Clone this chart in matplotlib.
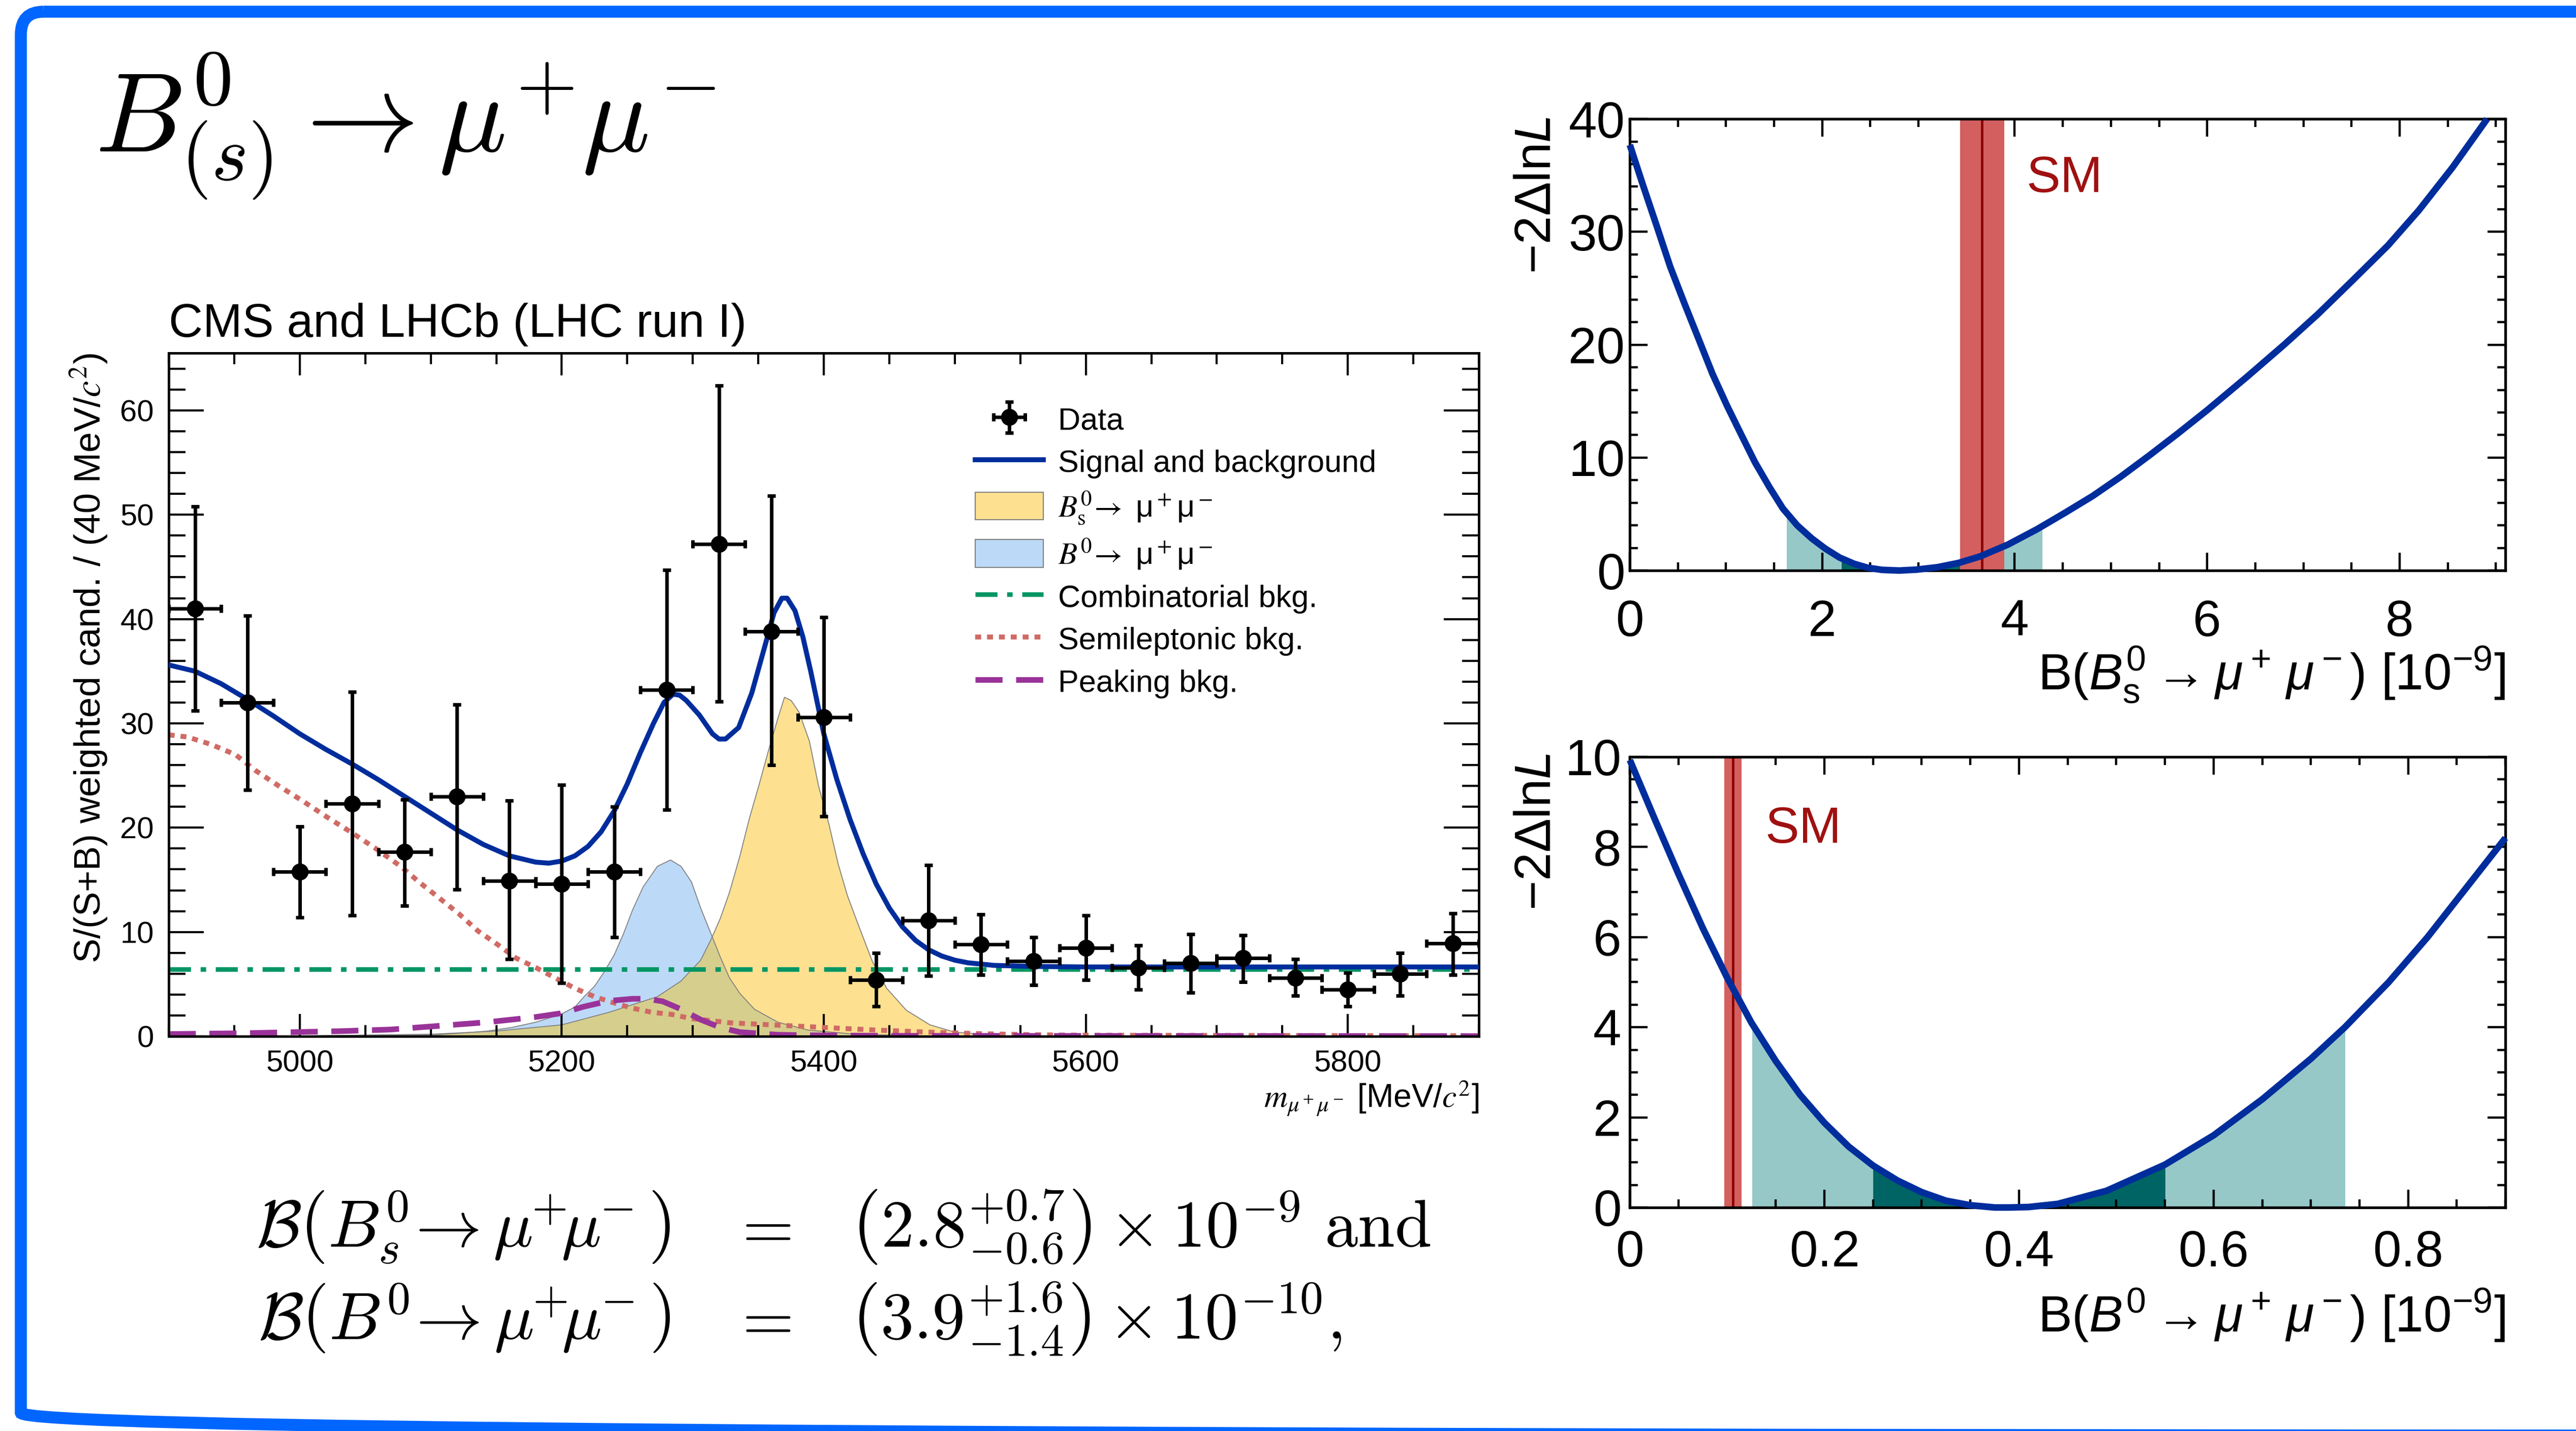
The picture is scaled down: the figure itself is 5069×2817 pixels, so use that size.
import numpy as np
import matplotlib
matplotlib.use("Agg")
import matplotlib.pyplot as plt
from matplotlib.patches import Patch, FancyBboxPatch, Rectangle, Polygon
from matplotlib.lines import Line2D
from matplotlib.ticker import MultipleLocator, FuncFormatter

plt.rcParams['font.family'] = ['Liberation Sans', 'DejaVu Sans']
plt.rcParams['mathtext.fontset'] = 'custom'
plt.rcParams['mathtext.rm'] = 'Liberation Sans'
plt.rcParams['mathtext.it'] = 'Liberation Sans:italic'
plt.rcParams['mathtext.bf'] = 'Liberation Sans:bold'
plt.rcParams['mathtext.sf'] = 'Liberation Sans'

# ---- mass spectrum: weighted candidates per 40 MeV bin ----
bin_width = 40
data_mass = [4920, 4960, 5000, 5040, 5080, 5120, 5160, 5200, 5240, 5280, 5320, 5360, 5400,
             5440, 5480, 5520, 5560, 5600, 5640, 5680, 5720, 5760, 5800, 5840, 5880]
data_yield = [41.0, 32.0, 15.8, 22.3, 17.7, 23.0, 14.9, 14.6, 15.8, 33.2, 47.2, 38.8, 30.6,
              5.4, 11.1, 8.8, 7.2, 8.5, 6.6, 7.0, 7.5, 5.6, 4.5, 6.0, 8.9]
data_low = [31.2, 23.6, 11.4, 11.6, 12.5, 14.1, 7.4, 5.1, 9.5, 21.7, 32.1, 26.0, 21.1,
            2.9, 5.8, 5.9, 4.9, 5.4, 4.5, 4.2, 5.2, 3.9, 2.9, 3.9, 5.9]
data_high = [50.8, 40.3, 20.1, 33.0, 22.7, 31.8, 22.6, 24.1, 22.0, 44.7, 62.4, 51.8, 40.2,
             8.0, 16.4, 11.7, 9.5, 11.6, 8.7, 9.8, 9.7, 7.4, 6.1, 8.0, 11.8]

# fit components
total_mass = [4900, 4920, 4940, 4960, 4980, 5000, 5020, 5040, 5060, 5080, 5100, 5120, 5140,
              5160, 5180, 5190, 5200, 5210, 5220, 5230, 5240, 5250, 5260, 5270, 5278, 5285,
              5290, 5295, 5305, 5315, 5320, 5325, 5335, 5345, 5355, 5362, 5368, 5372, 5378,
              5384, 5390, 5400, 5410, 5420, 5430, 5440, 5450, 5460, 5470, 5480, 5490, 5500,
              5510, 5530, 5560, 5600, 5900]
total_yield = [35.6, 35.0, 33.8, 32.3, 30.7, 29.0, 27.5, 26.1, 24.6, 23.0, 21.4, 19.8, 18.4,
               17.3, 16.7, 16.6, 16.8, 17.3, 18.2, 19.6, 21.6, 24.2, 27.2, 30.0, 32.0, 32.8,
               32.7, 32.2, 30.8, 29.0, 28.5, 28.5, 29.6, 32.9, 37.4, 40.6, 42.0, 42.0, 40.8,
               38.3, 35.0, 29.0, 24.6, 20.8, 17.5, 14.6, 12.3, 10.5, 9.2, 8.3, 7.7, 7.3,
               7.05, 6.8, 6.7, 6.65, 6.65]

bs_mass = [4900, 5000, 5100, 5150, 5200, 5236, 5273, 5291, 5306, 5314, 5321, 5328, 5336,
           5343, 5351, 5358, 5365, 5370, 5375, 5381, 5389, 5396, 5404, 5411, 5418, 5426,
           5437, 5448, 5463, 5481, 5500, 5537, 5600, 5900]
bs_yield = [0.02, 0.05, 0.2, 0.5, 1.1, 2.3, 3.8, 5.3, 7.3, 9.3, 11.3, 13.8, 17.3, 20.8,
            24.3, 27.5, 30.5, 32.5, 32.2, 31.1, 28.3, 24.0, 20.3, 16.5, 13.5, 10.8, 7.2,
            4.6, 2.5, 1.1, 0.4, 0.05, 0.0, 0.0]

b0_mass = [4900, 5000, 5106, 5143, 5162, 5180, 5199, 5210, 5217, 5225, 5232, 5240, 5247,
           5254, 5262, 5273, 5283, 5291, 5299, 5306, 5314, 5321, 5328, 5336, 5347, 5365,
           5388, 5420, 5460, 5500, 5900]
b0_yield = [0.02, 0.05, 0.15, 0.5, 0.85, 1.35, 2.1, 2.8, 3.8, 4.8, 6.1, 7.8, 9.8, 12.1,
            14.3, 16.3, 16.9, 16.3, 14.8, 12.3, 9.8, 7.6, 5.6, 4.1, 2.6, 1.35, 0.6, 0.25,
            0.08, 0.03, 0.0]

comb_mass = [4900, 5900]
comb_yield = [6.45, 6.45]

semi_mass = [4900, 4914, 4932, 4951, 4966, 4984, 5003, 5021, 5040, 5058, 5077, 5091, 5106,
             5121, 5136, 5151, 5165, 5180, 5195, 5210, 5225, 5240, 5254, 5269, 5284, 5299,
             5314, 5328, 5360, 5400, 5440, 5480, 5520, 5560, 5600, 5900]
semi_yield = [28.9, 28.7, 28.0, 27.0, 25.5, 24.0, 22.5, 21.0, 19.5, 18.0, 16.3, 14.8, 13.3,
              11.8, 10.1, 8.8, 7.5, 6.6, 5.6, 4.6, 3.8, 3.2, 2.7, 2.3, 2.1, 1.7, 1.5, 1.3,
              1.1, 0.85, 0.6, 0.4, 0.25, 0.15, 0.1, 0.05]

peak_mass = [4900, 4958, 5032, 5069, 5106, 5143, 5180, 5199, 5217, 5236, 5254, 5265, 5277,
             5291, 5306, 5321, 5336, 5365, 5388, 5450, 5900]
peak_yield = [0.22, 0.3, 0.5, 0.65, 1.0, 1.35, 1.85, 2.2, 2.85, 3.4, 3.6, 3.6, 3.35, 2.6,
              1.6, 0.85, 0.4, 0.15, 0.1, 0.05, 0.02]

# ---- likelihood scans ----
bs_br = [0.0, 0.13, 0.28, 0.42, 0.57, 0.72, 0.86, 1.01, 1.16, 1.30, 1.45, 1.59, 1.74, 1.89,
         2.03, 2.18, 2.33, 2.47, 2.62, 2.80, 2.98, 3.20, 3.42, 3.64, 3.93, 4.23, 4.52, 4.81,
         5.10, 5.40, 5.69, 6.00, 6.42, 6.80, 7.15, 7.50, 7.88, 8.20, 8.55, 8.91]
bs_nll = [37.7, 34.3, 30.5, 26.9, 23.6, 20.4, 17.4, 14.6, 12.0, 9.6, 7.4, 5.5, 4.0, 2.85,
          1.95, 1.15, 0.6, 0.25, 0.06, 0.0, 0.08, 0.3, 0.68, 1.25, 2.3, 3.65, 5.1, 6.6,
          8.3, 10.2, 12.1, 14.2, 17.2, 20.0, 22.7, 25.6, 28.8, 31.9, 35.7, 40.0]
b0_br = [0.0, 0.025, 0.05, 0.075, 0.10, 0.125, 0.15, 0.175, 0.20, 0.225, 0.25, 0.275, 0.30,
         0.325, 0.35, 0.375, 0.39, 0.41, 0.44, 0.49, 0.55, 0.60, 0.65, 0.70, 0.735, 0.78,
         0.82, 0.86, 0.90]
b0_nll = [9.93, 8.65, 7.4, 6.2, 5.1, 4.1, 3.25, 2.5, 1.88, 1.35, 0.93, 0.6, 0.34, 0.15,
          0.05, 0.0, 0.0, 0.01, 0.08, 0.37, 0.95, 1.6, 2.4, 3.3, 4.0, 5.0, 6.0, 7.1, 8.2]

# measured values (Bs in 1e-9, B0 in 1e-10) and 2 sigma intervals (1e-9)
bs_central, bs_up, bs_dn = 2.8, 0.7, 0.6
b0_central, b0_up, b0_dn = 3.9, 1.6, 1.4
bs_2sigma = [1.63, 4.28]
b0_2sigma = [0.126, 0.735]

# Standard Model predictions (1e-9)
sm_bs, sm_bs_err = 3.66, 0.23
sm_b0, sm_b0_err = 0.106, 0.009

DARKBLUE = '#002d9c'
YELLOW = '#fde090'
LIGHTBLUE = '#bcd9f8'
OLIVE = '#d6ce8c'
GREEN = '#009664'
SALMON = '#d06a65'
PURPLE = '#993399'
TEAL_LIGHT = '#96c8c8'
TEAL_DARK = '#006464'
SM_BAND = '#d35f5f'
SM_LINE = '#8c0000'
SM_TEXT = '#a01010'
FRAME_BLUE = '#0066ff'

COMB_LS = (0, (4.8, 2.1, 1.2, 2.1))
SEMI_LS = (0, (1.2, 1.2))
PEAK_LS = (0, (4.8, 2.4))

fig = plt.figure(figsize=(50.69, 28.17), dpi=100)

# slide frame, title and result summary in pixel coordinates
frame = fig.add_axes([0, 0, 1, 1], zorder=-1)
frame.set_xlim(0, 5069)
frame.set_ylim(2817, 0)
frame.axis('off')
frame.add_patch(FancyBboxPatch((41, 23), 5300, 2803, boxstyle='round,pad=0,rounding_size=45',
                               fill=False, ec=FRAME_BLUE, lw=17))
frame.text(187, 298, r'$B^0_{(s)} \rightarrow \mu^{\!+}\!\mu^{\!-}$', fontsize=160,
           math_fontfamily='cm', ha='left', va='baseline')

eq_size = 94
rows = [
    (2456, r'$\mathcal{B}\left(B^0_s\!\rightarrow\mu^{\!\!+}\!\!\mu^{\!\!-}\right)$',
     r'$\left(%.1f^{+%.1f}_{-%.1f}\right) \times 10^{-9}\ \mathrm{and}$' % (bs_central, bs_up, bs_dn)),
    (2637, r'$\mathcal{B}\left(B^0\!\rightarrow\mu^{\!\!+}\!\!\mu^{\!\!-}\right)$',
     r'$\left(%.1f^{+%.1f}_{-%.1f}\right) \times 10^{-10},$' % (b0_central, b0_up, b0_dn)),
]
for y, lhs, rhs in rows:
    frame.text(1320, y, lhs, fontsize=eq_size, math_fontfamily='cm', ha='right', va='baseline')
    frame.text(1498, y, r'$=$', fontsize=eq_size, math_fontfamily='cm', ha='center', va='baseline')
    frame.text(1676, y, rhs, fontsize=eq_size, math_fontfamily='cm', ha='left', va='baseline')

# ---- left: invariant mass distribution ----
ax = fig.add_axes([0.0655, 0.2758, 0.5086, 0.4775])
ax.fill_between(bs_mass, bs_yield, color=YELLOW, lw=0, zorder=1)
ax.fill_between(b0_mass, b0_yield, color=LIGHTBLUE, lw=0, zorder=1.1)
overlap = ax.fill_between(bs_mass, bs_yield, color=OLIVE, lw=0, zorder=1.2)
b0_shape = Polygon(np.column_stack([[b0_mass[0]] + b0_mass + [b0_mass[-1]],
                                    [0] + b0_yield + [0]]), transform=ax.transData)
overlap.set_clip_path(b0_shape)
ax.plot(bs_mass, bs_yield, color='#808080', lw=1.3, zorder=1.3)
ax.plot(b0_mass, b0_yield, color='#808080', lw=1.3, zorder=1.3)

ax.plot(comb_mass, comb_yield, color=GREEN, lw=6.5, ls=COMB_LS, zorder=2)
ax.plot(semi_mass, semi_yield, color=SALMON, lw=7, ls=SEMI_LS, zorder=2.1)
ax.plot(peak_mass, peak_yield, color=PURPLE, lw=8, ls=PEAK_LS, zorder=2.2)
ax.plot(total_mass, total_yield, color=DARKBLUE, lw=7, zorder=3)

yerr = [np.array(data_yield) - np.array(data_low), np.array(data_high) - np.array(data_yield)]
h_data = ax.errorbar(data_mass, data_yield, xerr=bin_width / 2, yerr=yerr, fmt='o',
                     color='black', ms=23, elinewidth=5, capsize=5.5, capthick=5, zorder=5)

ax.set_xlim(4900, 5900)
ax.set_ylim(0, 65.5)
ax.xaxis.set_major_locator(MultipleLocator(200))
ax.xaxis.set_minor_locator(MultipleLocator(50))
ax.yaxis.set_major_locator(MultipleLocator(10))
ax.yaxis.set_minor_locator(MultipleLocator(2))
ax.xaxis.set_major_formatter(FuncFormatter(lambda v, p: '%d' % v))
ax.tick_params(which='both', direction='in', top=True, right=True, width=3, labelsize=43)
ax.tick_params(axis='x', which='major', length=32, pad=19)
ax.tick_params(axis='x', which='minor', length=16)
ax.tick_params(axis='y', which='major', length=50, pad=21)
ax.tick_params(axis='y', which='minor', length=24)
for s in ax.spines.values():
    s.set_linewidth(3.5)

ax.text(0.0, 1.024, 'CMS and LHCb (LHC run I)', transform=ax.transAxes, fontsize=67,
        ha='left', va='baseline')
ax.text(-0.0609, 1.0, r'S/(S+B) weighted cand. / (40 MeV/$c^2$)', transform=ax.transAxes,
        rotation=90, ha='center', va='top', fontsize=52, math_fontfamily='stix')
ax.text(1.0, -0.1048, r'$m_{\mu^+\mu^-}$ [MeV/$c^2$]', transform=ax.transAxes, ha='right',
        va='baseline', fontsize=46, math_fontfamily='stix')

handles = [h_data,
           Line2D([], [], color=DARKBLUE, lw=7),
           Patch(facecolor=YELLOW, edgecolor='#808080', lw=1.5),
           Patch(facecolor=LIGHTBLUE, edgecolor='#808080', lw=1.5),
           Line2D([], [], color=GREEN, lw=6.5, ls=COMB_LS),
           Line2D([], [], color=SALMON, lw=7, ls=SEMI_LS),
           Line2D([], [], color=PURPLE, lw=8, ls=PEAK_LS)]
labels = ['Data', 'Signal and background',
          r'$B^0_\mathrm{s}\!\rightarrow$ μ$^+$μ$^-$',
          r'$B^0\!\rightarrow$ μ$^+$μ$^-$',
          'Combinatorial bkg.', 'Semileptonic bkg.', 'Peaking bkg.']
leg = ax.legend(handles, labels, loc='upper left', bbox_to_anchor=(0.6156, 0.924),
                frameon=False, fontsize=44, handlelength=2.19, handleheight=1.0,
                handletextpad=0.47, labelspacing=0.367, borderpad=0, borderaxespad=0)
for t in leg.get_texts()[2:4]:
    t.set_math_fontfamily('stix')


# ---- right: profile likelihood scans ----
def style_scan(a, xmaj, xmin, ymaj, ymin, xpad, ypad):
    a.xaxis.set_major_locator(MultipleLocator(xmaj))
    a.xaxis.set_minor_locator(MultipleLocator(xmin))
    a.yaxis.set_major_locator(MultipleLocator(ymaj))
    a.yaxis.set_minor_locator(MultipleLocator(ymin))
    a.xaxis.set_major_formatter(FuncFormatter(lambda v, p: '%g' % round(v, 3)))
    a.yaxis.set_major_formatter(FuncFormatter(lambda v, p: '%g' % round(v, 3)))
    a.tick_params(which='both', direction='in', top=True, right=True, width=3.2, labelsize=72)
    a.tick_params(which='major', length=25)
    a.tick_params(which='minor', length=11.5)
    a.tick_params(axis='x', pad=xpad)
    a.tick_params(axis='y', pad=ypad)
    for s in a.spines.values():
        s.set_linewidth(3.8)


def draw_scan(a, br, nll, interval2, interval1, sm, sm_err, ymax):
    light = a.fill_between(br, nll, color=TEAL_LIGHT, lw=0, zorder=1)
    light.set_clip_path(Rectangle((interval2[0], 0), interval2[1] - interval2[0], ymax,
                                  transform=a.transData))
    dark = a.fill_between(br, nll, color=TEAL_DARK, lw=0, zorder=1.1)
    dark.set_clip_path(Rectangle((interval1[0], 0), interval1[1] - interval1[0], ymax,
                                 transform=a.transData))
    a.axvspan(sm - sm_err, sm + sm_err, color=SM_BAND, lw=0, zorder=2)
    a.axvline(sm, color=SM_LINE, lw=3.5, zorder=2.1)
    a.plot(br, nll, color=DARKBLUE, lw=9.4, zorder=3, clip_on=False,
           solid_capstyle='butt', solid_joinstyle='round')


axt = fig.add_axes([0.6327, 0.6013, 0.3399, 0.3156])
draw_scan(axt, bs_br, bs_nll, bs_2sigma, [bs_central - bs_dn, bs_central + bs_up],
          sm_bs, sm_bs_err, 40)
axt.set_xlim(0, 9.1)
axt.set_ylim(0, 40)
style_scan(axt, 2, 0.5, 10, 2, 40, 7)
axt.text(4.12, 34.7, 'SM', color=SM_TEXT, fontsize=72, ha='left', va='center')
axt.text(-0.106, 1.005, r'$-2\Delta\mathrm{ln}L$', transform=axt.transAxes, rotation=90,
         ha='center', va='top', fontsize=72)
axt.text(1.0, -0.264, r'B($B^0_\mathrm{s} \rightarrow \mu^+\,\mu^-$) [10$^{-9}$]',
         transform=axt.transAxes, ha='right', va='baseline', fontsize=72)

axb = fig.add_axes([0.6327, 0.1562, 0.3399, 0.3149])
draw_scan(axb, b0_br, b0_nll, b0_2sigma,
          [(b0_central - b0_dn) / 10, (b0_central + b0_up) / 10], sm_b0, sm_b0_err, 10)
axb.set_xlim(0, 0.9)
axb.set_ylim(0, 10)
style_scan(axb, 0.2, 0.05, 2, 0.5, 31, 12)
axb.text(0.139, 8.39, 'SM', color=SM_TEXT, fontsize=72, ha='left', va='center')
axb.text(-0.106, 1.008, r'$-2\Delta\mathrm{ln}L$', transform=axb.transAxes, rotation=90,
         ha='center', va='top', fontsize=72)
axb.text(1.0, -0.277, r'B($B^0 \rightarrow \mu^+\,\mu^-$) [10$^{-9}$]',
         transform=axb.transAxes, ha='right', va='baseline', fontsize=72)

fig.savefig('out.png', dpi=100, facecolor='white')
